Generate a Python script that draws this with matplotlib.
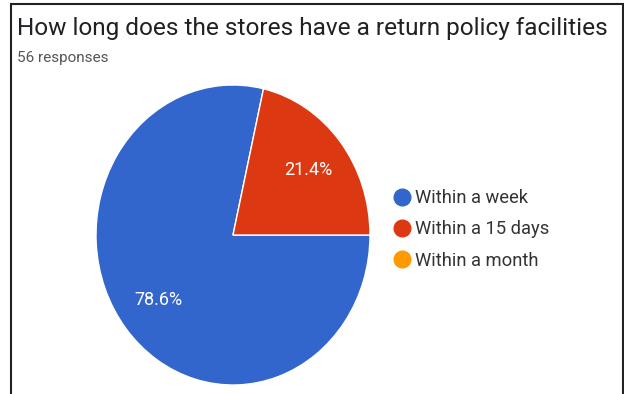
import matplotlib.pyplot as plt
from matplotlib.lines import Line2D
from matplotlib.patches import Rectangle

labels = ["Within a week", "Within a 15 days", "Within a month"]
counts = [44, 12, 0]
colors = ["#3366CC", "#DC3912", "#FF9900"]

plt.rcParams['font.family'] = ['Roboto', 'DejaVu Sans']

fig = plt.figure(figsize=(6.24, 3.94), dpi=100)

# frame around the card (no bottom edge)
fig.add_artist(Rectangle((11/624, -0.05), 612/624, 1.05 - 4/394, transform=fig.transFigure,
                         fill=False, edgecolor="#222222", linewidth=1.5))

fig.text(17/624, 1 - 28/394, "How long does the stores have a return policy facilities",
         fontsize=17.6, color="#202124", va="center", ha="left")
fig.text(17/624, 1 - 58/394, "56 responses", fontsize=11, color="#555555", va="center", ha="left")

ax = fig.add_axes([96/624, 1 - 385/394, 274/624, 300/394])
# only slices with responses are drawn
vals = [c for c in counts if c > 0]
cols = colors[:len(vals)]
wedges, texts, autotexts = ax.pie(vals, colors=cols, startangle=0, counterclock=False,
                                  autopct="%1.1f%%", pctdistance=0.7,
                                  wedgeprops=dict(edgecolor="white", linewidth=1),
                                  textprops=dict(color="white", fontsize=13))
ax.set_aspect("auto")
ax.set_xlim(-1, 1)
ax.set_ylim(-1, 1)

handles = [Line2D([], [], marker="o", linestyle="none", markersize=12,
                  markerfacecolor=c, markeredgecolor=c) for c in colors]
fig.legend(handles, labels, loc="upper left", bbox_to_anchor=(383/624, 1 - 180/394),
           frameon=False, fontsize=13.2, labelspacing=0.72, handletextpad=0.15,
           handlelength=1.1, borderpad=0, labelcolor="#333333")

fig.savefig("out.png", dpi=100)
